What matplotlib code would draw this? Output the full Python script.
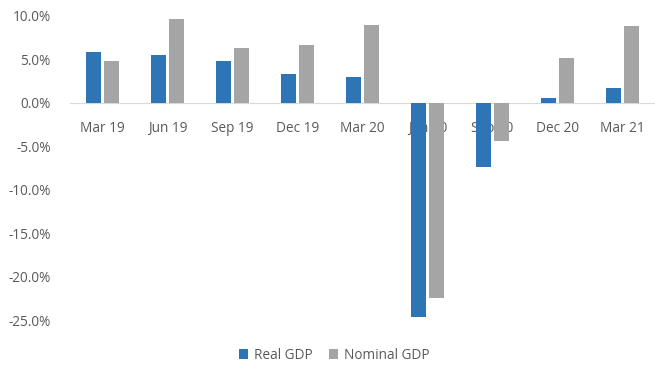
import matplotlib.pyplot as plt
import numpy as np
from matplotlib.ticker import FuncFormatter

# quarterly GDP growth, year on year
quarters = ['Mar 19', 'Jun 19', 'Sep 19', 'Dec 19', 'Mar 20',
            'Jun 20', 'Sep 20', 'Dec 20', 'Mar 21']
real_gdp = [5.9, 5.5, 4.8, 3.3, 3.0, -24.6, -7.4, 0.5, 1.7]
nominal_gdp = [4.8, 9.7, 6.3, 6.6, 8.9, -22.5, -4.4, 5.2, 8.8]

plt.rcParams['font.family'] = ['Open Sans', 'DejaVu Sans']
text_col = '#595959'

fig = plt.figure(figsize=(6.55, 3.7), dpi=100)
ax = fig.add_axes([0.107, 0.135, 0.893, 0.822])

x = np.arange(len(quarters))
w = 0.23
ax.bar(x - w / 2 - 0.025, real_gdp, w, color='#2E75B6', label='Real GDP', zorder=3)
ax.bar(x + w / 2 + 0.025, nominal_gdp, w, color='#A5A5A5', label='Nominal GDP', zorder=3)

ax.set_xlim(-0.5, len(quarters) - 0.5)
ax.set_ylim(-25, 10)
ax.set_yticks(np.arange(-25, 10.1, 5))
ax.yaxis.set_major_formatter(FuncFormatter(lambda v, p: f'{v:.1f}%'))

# category labels sit just under the zero line, behind the bars
ax.spines['bottom'].set_position(('data', 0))
ax.set_xticks(x)
ax.set_xticklabels(quarters)
ax.tick_params(axis='x', length=0, pad=13, labelsize=9.8, colors=text_col)
ax.tick_params(axis='y', length=0, pad=14, labelsize=9.8, colors=text_col)

ax.spines['bottom'].set_color('#D9D9D9')
for s in ['top', 'right', 'left']:
    ax.spines[s].set_visible(False)
ax.set_axisbelow(True)

leg = fig.legend(loc='center', bbox_to_anchor=(0.51, 0.04), ncol=2, frameon=False,
                 fontsize=9.8, handlelength=0.7, handleheight=0.7,
                 handletextpad=0.4, columnspacing=1.2)
for t in leg.get_texts():
    t.set_color(text_col)

fig.savefig('out.png', dpi=100)
